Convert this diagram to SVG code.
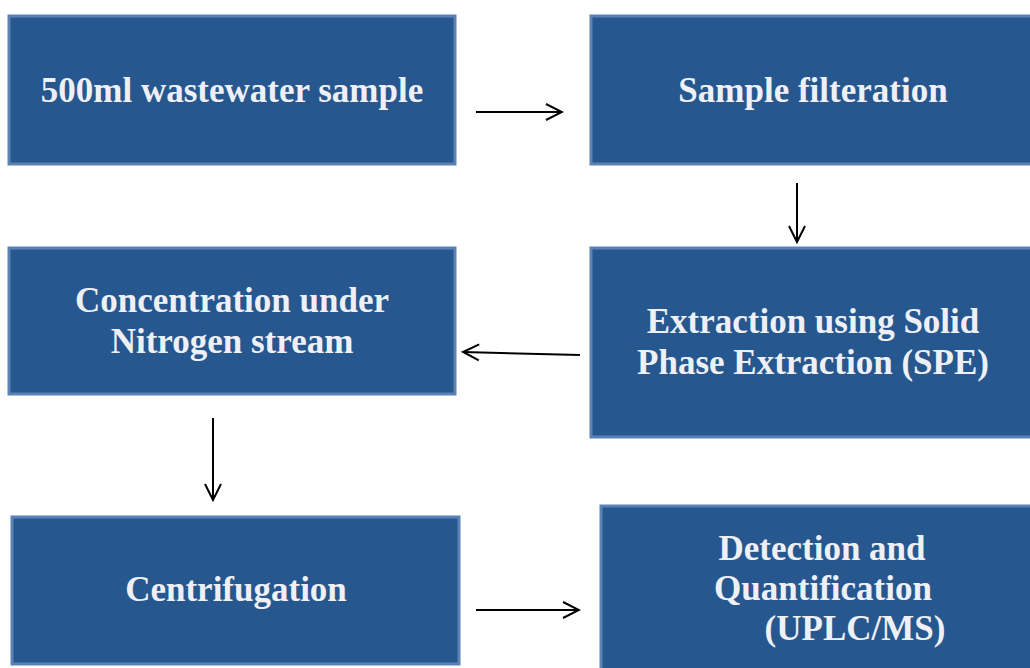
<svg xmlns="http://www.w3.org/2000/svg" width="1030" height="668" viewBox="0 0 1030 668">
<style>
.box{fill:#26578f;stroke:#5b82b4;stroke-width:3}
.t{font-family:"Liberation Serif","DejaVu Serif",serif;font-weight:bold;font-size:35px;fill:#eef0f5;text-anchor:middle}
.c{stroke:#000;stroke-width:2;fill:none}
</style>
<defs>
<marker id="a" viewBox="0 0 20 20" refX="18" refY="10" markerWidth="20" markerHeight="20" markerUnits="userSpaceOnUse" orient="auto">
<path d="M2,2 L18,10 L2,18" fill="none" stroke="#000" stroke-width="2"/>
</marker>
</defs>
<rect width="1030" height="668" fill="#fff"/>
<g id="n1"><rect class="box" x="9" y="16" width="446" height="148"/><text class="t" x="232" y="102">500ml wastewater sample</text></g>
<g id="n2"><rect class="box" x="591" y="16" width="445" height="148"/><text class="t" x="813" y="102">Sample filteration</text></g>
<g id="n3"><rect class="box" x="9" y="248" width="446" height="146"/><text class="t" x="232" y="312">Concentration under</text><text class="t" x="232" y="353">Nitrogen stream</text></g>
<g id="n4"><rect class="box" x="591" y="248" width="445" height="189"/><text class="t" x="813" y="333">Extraction using Solid</text><text class="t" x="813" y="374">Phase Extraction (SPE)</text></g>
<g id="n5"><rect class="box" x="12" y="517" width="447" height="147"/><text class="t" x="236" y="601">Centrifugation</text></g>
<g id="n6"><rect class="box" x="601" y="506" width="435" height="170"/><text class="t" x="822" y="560">Detection and</text><text class="t" x="823" y="600">Quantification</text><text class="t" x="855" y="640">(UPLC/MS)</text></g>
<g id="connectors">
<line class="c" x1="476" y1="112" x2="562" y2="112" marker-end="url(#a)"/>
<line class="c" x1="797" y1="183" x2="797" y2="242" marker-end="url(#a)"/>
<line class="c" x1="580" y1="355" x2="463" y2="352" marker-end="url(#a)"/>
<line class="c" x1="213" y1="418" x2="213" y2="500" marker-end="url(#a)"/>
<line class="c" x1="476" y1="610" x2="579" y2="610" marker-end="url(#a)"/>
</g>
</svg>
